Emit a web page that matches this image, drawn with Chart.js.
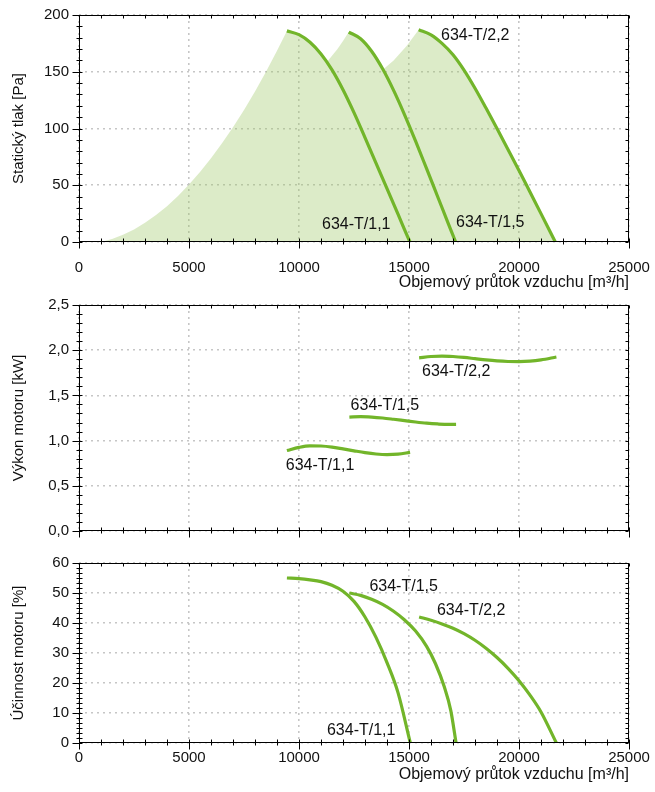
<!DOCTYPE html>
<html><head><meta charset="utf-8">
<script src="https://cdn.jsdelivr.net/npm/chart.js@4/dist/chart.umd.min.js"></script>
<style>
html,body{margin:0;padding:0;background:#fff;width:655px;height:792px;overflow:hidden}
.box{position:absolute;left:0;width:655px}
canvas{display:block}
</style></head><body>
<div class="box" style="top:0;height:300px"><canvas id="c1" width="655" height="300" style="width:655px;height:300px"></canvas></div>
<div class="box" style="top:292px;height:250px"><canvas id="c2" width="655" height="250" style="width:655px;height:250px"></canvas></div>
<div class="box" style="top:545px;height:247px"><canvas id="c3" width="655" height="247" style="width:655px;height:247px"></canvas></div>
<script>
// ---------- data ----------
const seriesNames = ['634-T/1,1', '634-T/1,5', '634-T/2,2'];

// Static pressure [Pa] vs airflow [m3/h]
const p11Flow = [9450, 10000, 10500, 11000, 11500, 12000, 12500, 13000, 13500, 14000, 14500, 15000, 15050];
const p11Pres = [186, 182.7, 176, 165.7, 151.7, 134.2, 114, 92, 69.5, 47, 24.5, 2, 0];
const p15Flow = [12260, 12800, 13300, 13800, 14300, 14800, 15300, 15800, 16300, 16800, 17120];
const p15Pres = [185, 179.1, 168.1, 152.6, 133.6, 112.1, 88.9, 64.6, 40.1, 15.6, 0];
const p22Flow = [15440, 16000, 16500, 17000, 17500, 18000, 18500, 19000, 19500, 20000, 20500, 21000, 21650];
const p22Pres = [187, 182.5, 175, 165, 151.5, 135.5, 118, 100, 81.5, 63, 44, 25, 0];

// Working area envelope (shaded)
const envFlow = [1000, 1500, 2000, 2500, 3000, 3500, 4000, 4500, 5000, 5500, 6000, 6500, 7000, 7500, 8000, 8500, 9000, 9450,
                 9700, 10000, 10250, 10500, 10750, 11000, 11270, 11500, 11750, 12000, 12260,
                 12500, 12800, 13050, 13300, 13550, 13820, 14300, 14900, 15440,
                 15700, 16000, 16250, 16500, 16750, 17000, 17500, 18000, 18500, 19000, 19500, 20000, 20500, 21000, 21650];
const envPres = [0, 2.6, 6.3, 11.1, 16.9, 23.7, 31.6, 40.6, 50.6, 61.6, 73.7, 86.9, 101.1, 116.4, 132.7, 150.1, 168.6, 186,
                 185, 182.7, 179.8, 176, 171.3, 165.7, 158.5, 164, 170, 177, 185,
                 182.9, 179.1, 174.2, 168.1, 161, 152, 160, 173, 187,
                 185.4, 182.5, 179.2, 175, 170.4, 165, 151.5, 135.5, 118, 100, 81.5, 63, 44, 25, 0];

// Motor power [kW]
const w11Flow = [9450, 10000, 10500, 11000, 11500, 12000, 12500, 13000, 13500, 14000, 14500, 15050];
const w11Pow  = [0.89, 0.925, 0.942, 0.94, 0.928, 0.908, 0.887, 0.867, 0.852, 0.845, 0.85, 0.87];
const w15Flow = [12290, 12800, 13300, 13800, 14300, 14800, 15300, 15800, 16300, 16800, 17140];
const w15Pow  = [1.26, 1.265, 1.26, 1.25, 1.236, 1.221, 1.206, 1.193, 1.184, 1.179, 1.18];
const w22Flow = [15460, 16000, 16500, 17000, 17500, 18000, 18500, 19000, 19500, 20000, 20500, 21000, 21700];
const w22Pow  = [1.915, 1.93, 1.935, 1.93, 1.92, 1.906, 1.892, 1.881, 1.875, 1.874, 1.879, 1.893, 1.925];

// Motor efficiency [%]
const e11Flow = [9450, 10000, 10500, 11000, 11500, 12000, 12500, 13000, 13500, 14000, 14500, 15060];
const e11Eff  = [55, 54.8, 54.4, 53.8, 52.6, 50.6, 47.2, 42, 35.2, 26.8, 16.8, 0];
const e15Flow = [12290, 12800, 13300, 13800, 14300, 14800, 15300, 15800, 16200, 16600, 16900, 17140];
const e15Eff  = [50, 49.2, 47.9, 46.2, 43.9, 41, 37.3, 32.2, 26.5, 18.8, 10.8, 0];
const e22Flow = [15460, 16000, 16500, 17000, 17500, 18000, 18500, 19000, 19500, 20000, 20500, 21000, 21700];
const e22Eff  = [42, 40.9, 39.7, 38.25, 36.45, 34.25, 31.6, 28.5, 24.9, 20.75, 15.95, 10.35, 0];

const xTickLabels = ['0', '5000', '10000', '15000', '20000', '25000'];
const xTitle = 'Objemový průtok vzduchu [m³/h]';
const yTitles = ['Statický tlak [Pa]', 'Výkon motoru [kW]', 'Účinnost motoru [%]'];

// ---------- styling ----------
const GREEN = '#72b52a';
const FONT = "'Liberation Sans', Arial, sans-serif";
const pts = (xs, ys) => xs.map((x, i) => ({x, y: ys[i]}));

const framePlugin = {
  id: 'frame',
  afterDraw(chart, args, o) {
    const {ctx, chartArea: a} = chart;
    const xs = chart.scales.x, ys = chart.scales.y;
    const L = Math.round(a.left) + 0.5, R = Math.round(a.right) - 0.5;
    const T = Math.round(a.top) + 0.5, B = Math.round(a.bottom) - 0.5;
    ctx.save();
    ctx.strokeStyle = '#000'; ctx.lineWidth = 1;
    ctx.strokeRect(L, T, R - L, B - T);
    ctx.beginPath();
    const xMinor = o.xMajor / o.xSub;
    for (let i = 0; i <= Math.round((xs.max - xs.min) / xMinor); i++) {
      const v = xs.min + i * xMinor;
      const px = Math.round(xs.getPixelForValue(v)) + 0.5;
      const major = i % o.xSub === 0;
      ctx.moveTo(px, B - 3); ctx.lineTo(px, B + (major ? 7 : 3));
      ctx.moveTo(px, T); ctx.lineTo(px, T + 3);
    }
    const yMinor = o.yMajor / o.ySub;
    for (let i = 0; i <= Math.round((ys.max - ys.min) / yMinor); i++) {
      const v = ys.min + i * yMinor;
      const py = Math.round(ys.getPixelForValue(v)) + 0.5;
      const major = i % o.ySub === 0;
      ctx.moveTo(L - (major ? 7 : 3), py); ctx.lineTo(L + 3, py);
      ctx.moveTo(R, py); ctx.lineTo(R - 3, py);
    }
    ctx.stroke();
    ctx.restore();
  }
};

const labelPlugin = {
  id: 'curveLabels',
  afterDatasetsDraw(chart, args, o) {
    const {ctx} = chart;
    ctx.save();
    ctx.fillStyle = '#111';
    ctx.font = '16px ' + FONT;
    ctx.textAlign = 'left'; ctx.textBaseline = 'middle';
    o.items.forEach(it => {
      ctx.fillText(it.text, chart.scales.x.getPixelForValue(it.x), chart.scales.y.getPixelForValue(it.y));
    });
    ctx.restore();
  }
};

function lineDs(data) {
  return {data, borderColor: GREEN, borderWidth: 3.2, pointRadius: 0, fill: false,
          cubicInterpolationMode: 'monotone', borderCapStyle: 'butt', order: 0};
}

function makeChart(id, cfg) {
  const x = {
    type: 'linear', min: 0, max: 25000,
    afterFit: s => { s.height = cfg.xHeight; s.paddingLeft = 0; s.paddingRight = 0; },
    ticks: {display: cfg.showX, stepSize: 5000, autoSkip: false, maxRotation: 0, minRotation: 0,
            color: '#111', font: {family: FONT, size: 15}, padding: cfg.xPad,
            callback: (v) => xTickLabels[Math.round(v / 5000)]},
    grid: {color: '#c6c6c6', lineWidth: 1.6, drawTicks: false},
    border: {display: false, dash: [2, 4]},
    title: {display: cfg.showX, text: xTitle, align: 'end', color: '#111',
            font: {family: FONT, size: 16}, padding: {top: 0, bottom: 8}}
  };
  const y = {
    type: 'linear', min: cfg.yMin, max: cfg.yMax,
    afterFit: s => { s.width = 79; s.paddingTop = 0; s.paddingBottom = 0; },
    ticks: {stepSize: cfg.yStep, autoSkip: false, color: '#111',
            font: {family: FONT, size: 15}, padding: 10, callback: cfg.yFmt},
    grid: {color: '#c6c6c6', lineWidth: 1.6, drawTicks: false},
    border: {display: false, dash: [2, 4]},
    title: {display: true, text: cfg.yTitle, color: '#111',
            font: {family: FONT, size: 15}, padding: {top: 10, bottom: 0}}
  };
  return new Chart(document.getElementById(id), {
    type: 'line',
    data: {datasets: cfg.datasets},
    options: {
      responsive: false, animation: false, devicePixelRatio: 1,
      layout: {padding: {left: 0, right: 26, top: cfg.top, bottom: 0}},
      plugins: {legend: {display: false}, tooltip: {enabled: false},
                frame: {xMajor: 5000, xSub: 5, yMajor: cfg.yStep, ySub: cfg.ySub},
                curveLabels: {items: cfg.labels}},
      scales: {x, y}
    },
    plugins: [framePlugin, labelPlugin]
  });
}

makeChart('c1', {
  top: 15, xHeight: 58, showX: true, xPad: 17,
  yMin: 0, yMax: 200, yStep: 50, ySub: 5, yTitle: yTitles[0],
  yFmt: v => String(v),
  datasets: [
    {data: pts(envFlow, envPres), borderWidth: 0, pointRadius: 0, tension: 0,
     fill: 'origin', backgroundColor: 'rgba(155,198,98,0.35)', order: 1},
    lineDs(pts(p11Flow, p11Pres)),
    lineDs(pts(p15Flow, p15Pres)),
    lineDs(pts(p22Flow, p22Pres))
  ],
  labels: [
    {text: seriesNames[0], x: 11045, y: 15},
    {text: seriesNames[1], x: 17136, y: 16.7},
    {text: seriesNames[2], x: 16455, y: 181.5}
  ]
});

makeChart('c2', {
  top: 13, xHeight: 11, showX: false, xPad: 0,
  yMin: 0, yMax: 2.5, yStep: 0.5, ySub: 5, yTitle: yTitles[1],
  yFmt: v => v.toFixed(1).replace('.', ','),
  datasets: [
    lineDs(pts(w11Flow, w11Pow)),
    lineDs(pts(w15Flow, w15Pow)),
    lineDs(pts(w22Flow, w22Pow))
  ],
  labels: [
    {text: seriesNames[0], x: 9400, y: 0.722},
    {text: seriesNames[1], x: 12345, y: 1.383},
    {text: seriesNames[2], x: 15590, y: 1.762}
  ]
});

makeChart('c3', {
  top: 18, xHeight: 49, showX: true, xPad: 6,
  yMin: 0, yMax: 60, yStep: 10, ySub: 6, yTitle: yTitles[2],
  yFmt: v => String(v),
  datasets: [
    lineDs(pts(e11Flow, e11Eff)),
    lineDs(pts(e15Flow, e15Eff)),
    lineDs(pts(e22Flow, e22Eff))
  ],
  labels: [
    {text: seriesNames[0], x: 11270, y: 4.3},
    {text: seriesNames[1], x: 13200, y: 52.1},
    {text: seriesNames[2], x: 16270, y: 44}
  ]
});
</script>
</body></html>
